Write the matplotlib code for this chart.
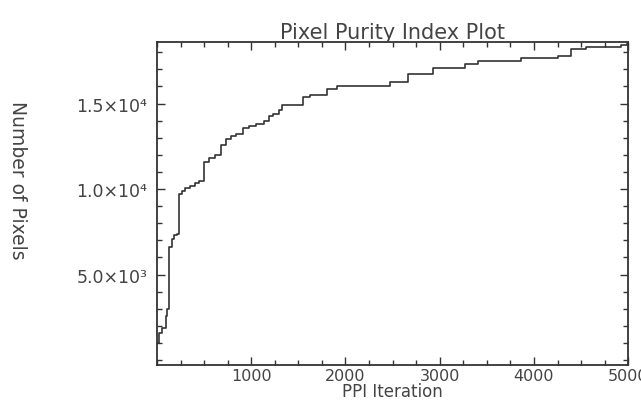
import numpy as np
import matplotlib.pyplot as plt
from matplotlib.ticker import MultipleLocator, FixedLocator

# PPI curve (step function)
iterations = [0, 20, 50, 90, 110, 128, 160, 181, 213, 235, 260, 300, 350, 400,
              450, 500, 555, 610, 680, 735, 790, 840, 915, 980, 1055, 1140,
              1185, 1235, 1290, 1330, 1545, 1620, 1800, 1910, 2130, 2470,
              2665, 2930, 3270, 3410, 3860, 4250, 4390, 4550, 4925, 4990]
pixels = [1000, 1600, 1900, 2600, 3000, 6600, 7100, 7300, 7400, 9700, 9900,
          10050, 10200, 10350, 10500, 11600, 11800, 12000, 12600, 12900,
          13100, 13200, 13600, 13700, 13800, 14000, 14300, 14400, 14600,
          14900, 15400, 15500, 15850, 16000, 16050, 16250, 16700, 17100,
          17300, 17500, 17650, 17800, 18200, 18300, 18400, 18500]

yticks = [5000, 10000, 15000]
ytick_labels = ['5.0\u00d710\u00b3', '1.0\u00d710\u2074', '1.5\u00d710\u2074']
xticks = [1000, 2000, 3000, 4000, 5000]

ink = '#333333'
txt = '#444444'
plt.rcParams.update({'font.family': 'DejaVu Sans', 'text.color': txt,
                     'axes.labelcolor': txt, 'axes.edgecolor': ink,
                     'xtick.color': ink, 'ytick.color': ink})

fig = plt.figure(figsize=(6.41, 4.02), dpi=100)
ax = fig.add_axes([0.245, 0.0896, 0.735, 0.8034])

ax.step(iterations, pixels, where='post', color=ink, lw=1.2)

ax.set_xlim(0, 5000)
ax.set_ylim(-290, 18600)

ax.xaxis.set_major_locator(FixedLocator(xticks))
ax.xaxis.set_minor_locator(MultipleLocator(250))
ax.yaxis.set_major_locator(FixedLocator(yticks))
ax.yaxis.set_minor_locator(MultipleLocator(1000))
ax.set_yticklabels(ytick_labels)

ax.tick_params(which='both', direction='in', top=True, right=True,
               labelcolor=txt, width=1.0)
ax.tick_params(axis='y', which='major', length=6, pad=7, labelsize=12.5)
ax.tick_params(axis='x', which='major', length=6, pad=2, labelsize=11.5)
ax.tick_params(which='minor', length=3.5)
for s in ax.spines.values():
    s.set_linewidth(1.3)

ax.set_title('Pixel Purity Index Plot', fontsize=15, pad=3)
ax.set_xlabel('PPI Iteration', fontsize=12, va='bottom')
ax.xaxis.set_label_coords(0.5, -0.108)
fig.text(0.028, 0.552, 'Number of Pixels', rotation=270, fontsize=13.5,
         ha='center', va='center', color=txt)

fig.savefig('out.png', dpi=100, facecolor='white')
